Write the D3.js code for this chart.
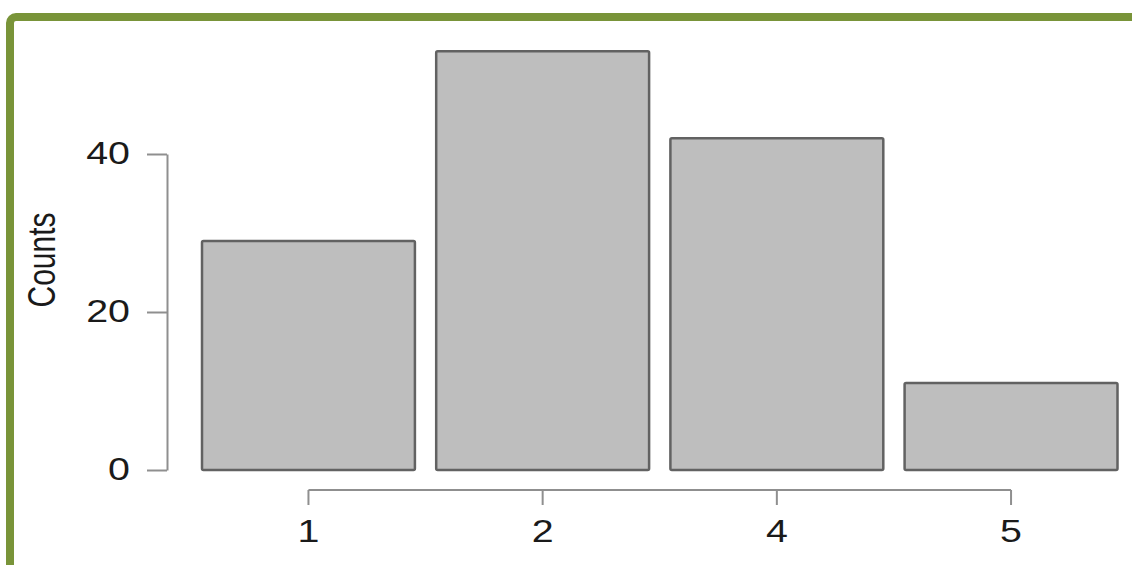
<!DOCTYPE html>
<html>
<head>
<meta charset="utf-8">
<script src="https://cdn.jsdelivr.net/npm/d3@7"></script>
<style>
  html, body { margin: 0; padding: 0; background: #fff; }
  svg { display: block; }
  text { font-family: "Liberation Sans", Arial, Helvetica, sans-serif; fill: #1a1a1a; }
</style>
</head>
<body>
<svg id="chart" width="1132" height="565"></svg>
<script>
// Bar heights for each category
const categories = ["1", "2", "4", "5"];
const counts = [29, 53, 42, 11];
const yTickValues = [0, 20, 40];
const yLabel = "Counts";

const W = 1132, H = 565;
const stretch = 1.27;          // horizontal text stretch
const fontSize = 31;

const svg = d3.select("#chart");

// Green frame around the panel
svg.append("rect")
  .attr("x", 10).attr("y", 17)
  .attr("width", 1300).attr("height", 800)
  .attr("rx", 6).attr("ry", 6)
  .attr("fill", "none")
  .attr("stroke", "#799439")
  .attr("stroke-width", 8);

const x = d3.scaleBand()
  .domain(categories)
  .range([202, 1117.5])
  .paddingInner(0.1 / 1.1)
  .paddingOuter(0);

const y = d3.scaleLinear()
  .domain([0, 40])
  .range([470, 154]);

// Bars
svg.append("g")
  .selectAll("rect")
  .data(categories.map((c, i) => ({ c, v: counts[i] })))
  .join("rect")
  .attr("x", d => x(d.c))
  .attr("y", d => y(d.v))
  .attr("width", x.bandwidth())
  .attr("height", d => y(0) - y(d.v))
  .attr("rx", 1.5)
  .attr("fill", "#bebebe")
  .attr("stroke", "#626262")
  .attr("stroke-width", 2.5);

const axisColor = "#8f8f8f";

// Y axis
const yAxis = svg.append("g")
  .attr("transform", "translate(167,0)")
  .call(d3.axisLeft(y).tickValues(yTickValues).tickSize(20).tickSizeOuter(0).tickPadding(17));
yAxis.select(".domain").attr("stroke", axisColor).attr("stroke-width", 2);
yAxis.selectAll(".tick line").attr("stroke", axisColor).attr("stroke-width", 2);
yAxis.selectAll(".tick text")
  .attr("x", -37 / stretch)
  .attr("transform", `scale(${stretch},1)`)
  .attr("font-size", fontSize)
  .attr("fill", "#1a1a1a");

// X axis: line spans from first to last tick
const xc = c => x(c) + x.bandwidth() / 2;
const xAxis = svg.append("g")
  .attr("transform", "translate(0,490)")
  .call(d3.axisBottom(x).tickSize(15).tickSizeOuter(0).tickPadding(15));
xAxis.select(".domain").remove();
xAxis.append("line")
  .attr("x1", xc(categories[0]))
  .attr("x2", xc(categories[categories.length - 1]))
  .attr("y1", 0).attr("y2", 0)
  .attr("stroke", axisColor).attr("stroke-width", 2);
xAxis.selectAll(".tick line").attr("stroke", axisColor).attr("stroke-width", 2);
xAxis.selectAll(".tick text")
  .attr("transform", `scale(${stretch},1)`)
  .attr("font-size", fontSize)
  .attr("fill", "#1a1a1a");

// Y axis title
svg.append("text")
  .attr("transform", `translate(41,260) scale(${stretch},1) rotate(-90)`)
  .attr("text-anchor", "middle")
  .attr("dy", "0.36em")
  .attr("font-size", 30)
  .text(yLabel);
</script>
</body>
</html>
